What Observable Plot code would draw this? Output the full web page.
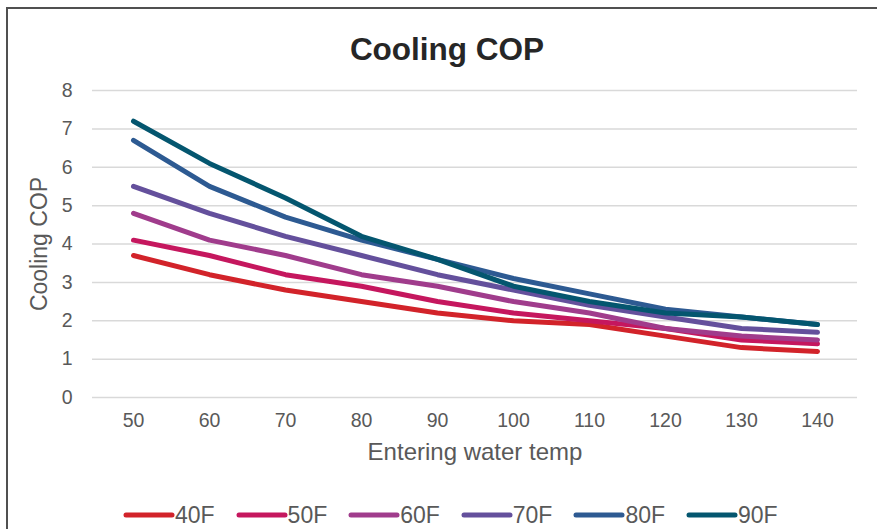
<!DOCTYPE html>
<html>
<head>
<meta charset="utf-8">
<script src="https://cdn.jsdelivr.net/npm/d3@7"></script>
<script src="https://cdn.jsdelivr.net/npm/@observablehq/plot@0.6"></script>
<style>
  html, body { margin: 0; padding: 0; background: #fff; }
  #wrap { position: relative; width: 877px; height: 529px; overflow: hidden; font-family: "Liberation Sans", Arial, sans-serif; }
  #border { position: absolute; left: 6px; top: 7px; width: 900px; height: 600px; border-top: 2px solid #505050; border-left: 2px solid #505050; }
  #title { position: absolute; left: 0; width: 894px; top: 33px; text-align: center; font-size: 31.5px; font-weight: bold; color: #262626; line-height: 32px; }
  #chart { position: absolute; left: 0; top: 70px; }
  #legend { position: absolute; left: 123px; top: 503px; display: flex; }
  .item { width: 112.6px; display: flex; align-items: center; font-size: 23px; color: #595959; height: 24px; }
  .item svg { margin-right: 0px; }
</style>
</head>
<body>
<div id="wrap">
  <div id="border"></div>
  <div id="title">Cooling COP</div>
  <div id="chart"></div>
  <div id="legend"></div>
</div>
<script>
const temps = [50, 60, 70, 80, 90, 100, 110, 120, 130, 140];
const seriesNames = ["40F", "50F", "60F", "70F", "80F", "90F"];
const colors = ["#d2232a", "#c5175e", "#a03c8c", "#64509c", "#2d5a92", "#04566f"];
const cop40 = [3.7, 3.2, 2.8, 2.5, 2.2, 2.0, 1.9, 1.6, 1.3, 1.2];
const cop50 = [4.1, 3.7, 3.2, 2.9, 2.5, 2.2, 2.0, 1.8, 1.5, 1.4];
const cop60 = [4.8, 4.1, 3.7, 3.2, 2.9, 2.5, 2.2, 1.8, 1.6, 1.5];
const cop70 = [5.5, 4.8, 4.2, 3.7, 3.2, 2.8, 2.4, 2.1, 1.8, 1.7];
const cop80 = [6.7, 5.5, 4.7, 4.1, 3.6, 3.1, 2.7, 2.3, 2.1, 1.9];
const cop90 = [7.2, 6.1, 5.2, 4.2, 3.6, 2.9, 2.5, 2.2, 2.1, 1.9];
const yTicks = [0, 1, 2, 3, 4, 5, 6, 7, 8];

const allSeries = [cop40, cop50, cop60, cop70, cop80, cop90];
const data = [];
allSeries.forEach((vals, i) => {
  vals.forEach((v, j) => data.push({ series: seriesNames[i], temp: temps[j], cop: v }));
});

const chart = Plot.plot({
  width: 877,
  height: 410,
  marginLeft: 92,
  marginRight: 20,
  marginTop: 20,
  marginBottom: 83,
  style: { fontFamily: "Liberation Sans, Arial, sans-serif", color: "#595959", background: "transparent" },
  x: { type: "point", domain: temps, padding: 0.5 },
  y: { domain: [0, 8] },
  color: { domain: seriesNames, range: colors },
  marks: [
    Plot.ruleY(yTicks, { stroke: "#d9d9d9", strokeWidth: 1.5 }),
    Plot.axisY({ ticks: yTicks, tickSize: 0, tickPadding: 20, fontSize: 19.5, label: null, fill: "#595959" }),
    Plot.axisX({ tickSize: 0, tickPadding: 16, fontSize: 19.5, label: null, fill: "#595959" }),
    Plot.text(["Cooling COP"], { frameAnchor: "left", textAnchor: "middle", dx: -53, rotate: -90, fontSize: 23, fill: "#595959" }),
    Plot.text(["Entering water temp"], { frameAnchor: "bottom", dy: 62, fontSize: 24, fill: "#595959" }),
    Plot.line(data, { x: "temp", y: "cop", z: "series", stroke: "series", strokeWidth: 5, strokeLinecap: "round", strokeLinejoin: "round" })
  ]
});
document.getElementById("chart").appendChild(chart);

const legend = document.getElementById("legend");
seriesNames.forEach((name, i) => {
  const item = document.createElement("div");
  item.className = "item";
  item.innerHTML = `<svg width="52" height="10"><line x1="3" y1="5" x2="49" y2="5" stroke="${colors[i]}" stroke-width="5" stroke-linecap="round"/></svg><span>${name}</span>`;
  legend.appendChild(item);
});
</script>
</body>
</html>
